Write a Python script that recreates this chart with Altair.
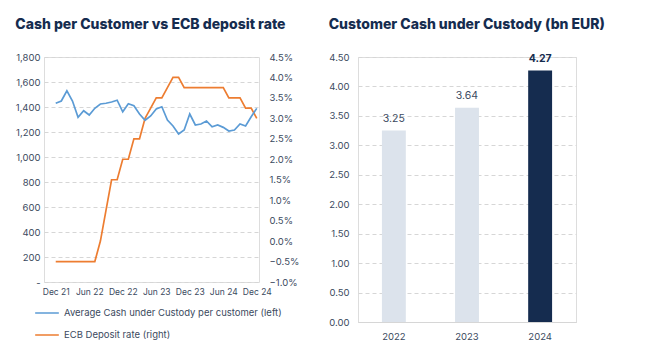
import altair as alt
import pandas as pd

# ---------------- data ----------------
month_index = list(range(37))  # Dec 21 .. Dec 24, monthly
cash_per_customer = [1430, 1448, 1530, 1448, 1318, 1370, 1336, 1390, 1424, 1430,
                     1440, 1454, 1362, 1426, 1410, 1344, 1294, 1328, 1384, 1402,
                     1296, 1248, 1184, 1216, 1344, 1256, 1264, 1288, 1242, 1256,
                     1237, 1208, 1216, 1264, 1248, 1322, 1389]
ecb_rate = [-0.5, -0.5, -0.5, -0.5, -0.5, -0.5, -0.5, -0.5, 0.0, 0.75,
            1.5, 1.5, 2.0, 2.0, 2.5, 2.5, 3.0, 3.25, 3.5, 3.5,
            3.75, 4.0, 4.0, 3.75, 3.75, 3.75, 3.75, 3.75, 3.75, 3.75,
            3.75, 3.5, 3.5, 3.5, 3.25, 3.25, 3.0]
x_tick_values = [0, 6, 12, 18, 24, 30, 36]
x_tick_labels = ["Dec 21", "Jun 22", "Dec 22", "Jun 23", "Dec 23", "Jun 24", "Dec 24"]
left_ticks = [0, 200, 400, 600, 800, 1000, 1200, 1400, 1600, 1800]
right_ticks = [-1.0, -0.5, 0.0, 0.5, 1.0, 1.5, 2.0, 2.5, 3.0, 3.5, 4.0, 4.5]
series_names = ["Average Cash under Custody per customer (left)", "ECB Deposit rate (right)"]

years = ["2022", "2023", "2024"]
cash_bn = [3.25, 3.64, 4.27]
bar_ticks = [0, 0.5, 1.0, 1.5, 2.0, 2.5, 3.0, 3.5, 4.0, 4.5]
highlight_year = "2024"

# ---------------- style ----------------
FONT = "Inter"
NAVY = "#152c4f"
LIGHT_BAR = "#dce3ec"
TEXT = "#3b4a60"
GRID = "#d6d6d6"
BLUE = "#5b9bd5"
ORANGE = "#ed7d31"

df_line = pd.DataFrame({"m": month_index, "cash": cash_per_customer, "rate": ecb_rate})

label_arr = "[" + ",".join("'%s'" % s for s in x_tick_labels) + "]"
x_enc = alt.X("m:Q",
              scale=alt.Scale(domain=[-2.1, 36.4], nice=False, zero=False),
              axis=alt.Axis(values=x_tick_values, labelExpr=label_arr + "[datum.value/6]",
                            grid=False, domain=False, ticks=False, title=None,
                            labelPadding=5, labelFontSize=8.5, labelColor=TEXT))

color_enc = alt.Color("series:N",
                      scale=alt.Scale(domain=series_names, range=[BLUE, ORANGE]),
                      legend=alt.Legend(orient="none", legendX=-10, legendY=243,
                                        direction="vertical", title=None,
                                        symbolType="stroke", symbolSize=560,
                                        symbolStrokeWidth=1.5, labelFontSize=9.5,
                                        labelColor=TEXT, rowPadding=4, labelOffset=4,
                                        labelLimit=400))

orange = alt.Chart(df_line).transform_calculate(
    series="'%s'" % series_names[1]
).mark_line(strokeWidth=1.7).encode(
    x=x_enc,
    y=alt.Y("rate:Q", scale=alt.Scale(domain=[-1.0, 4.5], nice=False, zero=False),
            axis=alt.Axis(orient="right", values=right_ticks,
                          labelExpr="format(datum.value, '.1f') + '%'",
                          grid=False, domain=False, ticks=False, title=None,
                          labelPadding=10, labelFontSize=9.5, labelColor=TEXT)),
    color=color_enc,
)

blue = alt.Chart(df_line).transform_calculate(
    series="'%s'" % series_names[0]
).mark_line(strokeWidth=1.7).encode(
    x=x_enc,
    y=alt.Y("cash:Q", scale=alt.Scale(domain=[0, 1800], nice=False),
            axis=alt.Axis(orient="left", values=left_ticks,
                          labelExpr="datum.value == 0 ? '-' : format(datum.value, ',')",
                          grid=True, gridDash=[4, 3], gridColor=GRID,
                          domain=False, ticks=False, title=None,
                          labelPadding=4, labelFontSize=9.5, labelColor=TEXT)),
    color=color_enc,
)

left = alt.layer(orange, blue).resolve_scale(y="independent").properties(
    width=215, height=225,
    title=alt.TitleParams("Cash per Customer vs ECB deposit rate", anchor="start",
                          frame="bounds", fontSize=14, fontWeight=800, color=NAVY,
                          font=FONT, offset=20),
)

df_bar = pd.DataFrame({"year": years, "value": cash_bn})
bar_x = alt.X("year:N", sort=years,
              scale=alt.Scale(paddingInner=0.673, paddingOuter=0.327),
              axis=alt.Axis(labelAngle=0, domain=True, domainColor=GRID, ticks=False,
                            title=None, labelPadding=9, labelFontSize=9.5,
                            labelColor=TEXT, grid=False))
bar_y = alt.Y("value:Q", scale=alt.Scale(domain=[0, 4.5], nice=False),
              axis=alt.Axis(values=bar_ticks, format=".2f", grid=True, gridDash=[4, 3],
                            gridColor=GRID, domain=False, ticks=False, title=None,
                            labelPadding=9, labelFontSize=9.5, labelColor=TEXT))

bars = alt.Chart(df_bar).mark_bar().encode(
    x=bar_x, y=bar_y,
    color=alt.condition(alt.datum.year == highlight_year, alt.value(NAVY), alt.value(LIGHT_BAR)),
)
labels_normal = alt.Chart(df_bar).transform_filter(
    alt.datum.year != highlight_year
).mark_text(baseline="bottom", dy=-7, fontSize=10.5, color=TEXT, font=FONT).encode(
    x=bar_x, y=bar_y, text=alt.Text("value:Q", format=".2f"))
labels_bold = alt.Chart(df_bar).transform_filter(
    alt.datum.year == highlight_year
).mark_text(baseline="bottom", dy=-7, fontSize=10.5, fontWeight="bold", color=NAVY,
            font=FONT).encode(
    x=bar_x, y=bar_y, text=alt.Text("value:Q", format=".2f"))

right = alt.layer(bars, labels_normal, labels_bold).properties(
    width=218, height=265,
    title=alt.TitleParams("Customer Cash under Custody (bn EUR)", anchor="start",
                          frame="bounds", fontSize=14, fontWeight=800, color=NAVY,
                          font=FONT, offset=20),
)

chart = alt.hconcat(left, right, spacing=28).properties(
    padding={"left": 14, "top": 17, "right": 5, "bottom": 5}
).configure_view(stroke=None).configure(font=FONT).configure_axis(
    labelFont=FONT).configure_legend(labelFont=FONT)

chart.save("out.html", embed_options={"renderer": "svg", "actions": False})
